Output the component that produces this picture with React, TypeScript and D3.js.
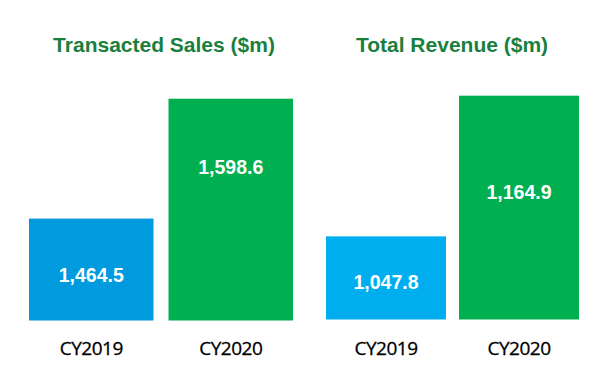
import React from "react";
import * as d3 from "d3";

const categories = ["CY2019", "CY2020"];
const salesValues = [1464.5, 1598.6];
const revenueValues = [1047.8, 1164.9];
const titles = ["Transacted Sales ($m)", "Total Revenue ($m)"];
const salesAxisMin = 1350.5;
const revenueAxisMin = 978.6;

const W = 600;
const H = 375;

type Panel = {
  title: string;
  values: number[];
  axisMin: number;
  x0: number;
  x1: number;
  pad: number;
  yTop: number;
  yBase: number;
  colors: string[];
  labelFrac: number[];
  titleX: number;
};

const panels: Panel[] = [
  {
    title: titles[0],
    values: salesValues,
    axisMin: salesAxisMin,
    x0: 29,
    x1: 293,
    pad: 0.1075,
    yTop: 98.7,
    yBase: 320.5,
    colors: ["#009ADF", "#00B050"],
    labelFrac: [0.55, 0.31],
    titleX: 164,
  },
  {
    title: titles[1],
    values: revenueValues,
    axisMin: revenueAxisMin,
    x0: 326,
    x1: 579,
    pad: 0.098,
    yTop: 95.7,
    yBase: 319.5,
    colors: ["#00AEEF", "#00B050"],
    labelFrac: [0.55, 0.43],
    titleX: 452,
  },
];

const fmt = d3.format(",.1f");

export default function App() {
  return (
    <svg
      width={W}
      height={H}
      style={{ position: "absolute", left: 0, top: 0, background: "#fff" }}
    >
      {panels.map((p, pi) => {
        const x = d3
          .scaleBand<string>()
          .domain(categories)
          .range([p.x0, p.x1])
          .paddingInner(p.pad)
          .paddingOuter(0);
        const y = d3
          .scaleLinear()
          .domain([p.axisMin, d3.max(p.values) as number])
          .range([p.yBase, p.yTop]);
        return (
          <g key={pi}>
            <text
              x={p.titleX}
              y={52}
              textAnchor="middle"
              fontFamily="Liberation Sans, Arial, sans-serif"
              fontWeight="bold"
              fontSize={21}
              fill="#1A7F3E"
            >
              {p.title}
            </text>
            {categories.map((c, i) => {
              const v = p.values[i];
              const top = y(v);
              const bx = x(c) as number;
              const bw = x.bandwidth();
              const ly = top + p.labelFrac[i] * (p.yBase - top);
              return (
                <g key={c}>
                  <rect
                    x={bx}
                    y={top}
                    width={bw}
                    height={p.yBase - top}
                    fill={p.colors[i]}
                  />
                  <text
                    x={bx + bw / 2}
                    y={ly + 7}
                    textAnchor="middle"
                    fontFamily="Liberation Sans, Arial, sans-serif"
                    fontWeight="bold"
                    fontSize={19.5}
                    fill="#ffffff"
                  >
                    {fmt(v)}
                  </text>
                  <text
                    x={bx + bw / 2}
                    y={355}
                    textAnchor="middle"
                    fontFamily="Open Sans, sans-serif"
                    fontSize={19}
                    letterSpacing={-0.5}
                    fill="#000000"
                    stroke="#000000"
                    strokeWidth={0.3}
                  >
                    {c}
                  </text>
                </g>
              );
            })}
          </g>
        );
      })}
    </svg>
  );
}
